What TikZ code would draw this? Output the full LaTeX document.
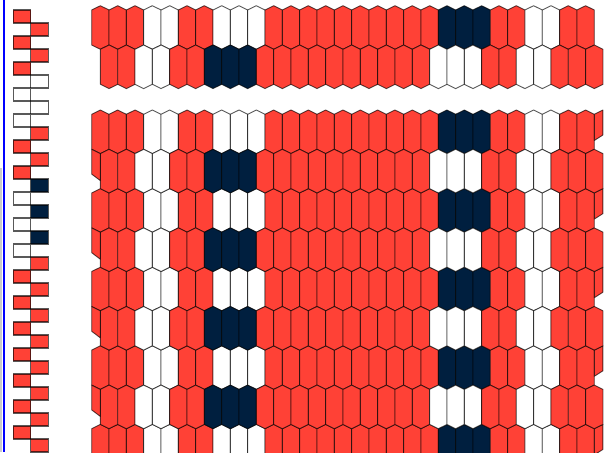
\documentclass[tikz,border=0pt]{standalone}
\usepackage{xcolor}
\usepackage{tikz}

\definecolor{rd}{HTML}{FF4136}
\definecolor{nv}{HTML}{001F3F}
\definecolor{wt}{HTML}{FFFFFF}
\newcommand\patA{rd,rd,rd,wt,wt,rd,rd,wt,wt,wt,rd,rd,rd,rd,rd,rd,rd,rd,rd,rd,nv,nv,nv,rd,rd,wt,wt,rd,rd}
\newcommand\patB{rd,rd,wt,wt,rd,rd,nv,nv,nv,rd,rd,rd,rd,rd,rd,rd,rd,rd,rd,wt,wt,wt,rd,rd,wt,wt,rd,rd,rd}
\newcommand\patCard{rd,rd,rd,rd,rd,wt,wt,wt,wt,rd,rd,rd,rd,nv,wt,nv,wt,nv,wt,rd,rd,rd,rd,rd,rd,rd,rd,rd,rd,rd,rd,rd,rd,rd}

\begin{document}
\begin{tikzpicture}[
    x=1pt,y=-1pt,
    cell/.style={draw=black,draw opacity=0.65,line width=0.9pt,line join=round},
    card/.style={draw=black,draw opacity=0.65,line width=1.1pt},
    hexa/.pic={\path[cell,pic actions] (0,4.3) -- (8.665,0) -- (17.33,4.3) -- (17.33,39.3) -- (8.665,43.6) -- (0,39.3) -- cycle;}
]
\useasboundingbox (0,0) rectangle (612,452);
\fill[white] (0,0) rectangle (612,452);
\begin{scope}
\clip (0,0) rectangle (612,452);
% top band
\foreach \c [count=\i from 0] in \patA
  \pic[fill=\c] at ({91.7+17.33*\i},5.7) {hexa};
\foreach \c [count=\i from 0] in \patB
  \pic[fill=\c] at ({100.37+17.33*\i},45) {hexa};
% main band
\foreach \r in {0,2,4,6,8}{
  \foreach \c [count=\i from 0] in \patA
    \pic[fill=\c] at ({91.7+17.33*\i},{110+39.3*\r}) {hexa};
  \draw[cell,fill=rd] (594.3,{114.3+39.3*\r}) -- ++(8.6,-4.3) -- ++(0,25) -- ++(-8.6,5.5) -- cycle;
}
\foreach \r in {1,3,5,7}{
  \foreach \c [count=\i from 0] in \patB
    \pic[fill=\c] at ({100.37+17.33*\i},{110+39.3*\r}) {hexa};
  \draw[cell,fill=rd] (91.7,{110+39.3*\r}) -- ++(8.6,4.3) -- ++(0,27) -- ++(-8.6,-6.5) -- cycle;
}
% card strip
\foreach \c [count=\k from 0] in \patCard
  \draw[card,fill=\c] ({13.3+17.4*mod(\k,2)},{10+13*\k}) rectangle ++(17.4,13);
\draw[blue,line width=1.2pt] (4,0) -- (4,452);
\draw[black!20,line width=2pt] (1,168) -- (1,452);
\end{scope}
\end{tikzpicture}
\end{document}
